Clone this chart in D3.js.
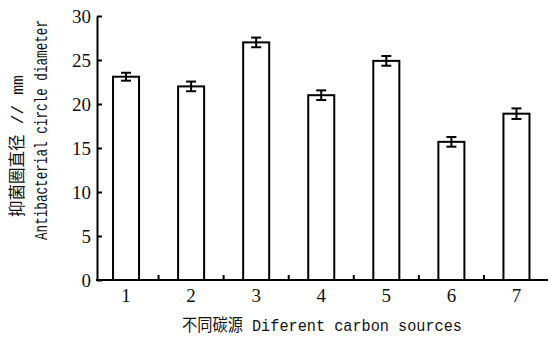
<!DOCTYPE html>
<html>
<head>
<meta charset="utf-8">
<script src="https://cdn.jsdelivr.net/npm/d3@7"></script>
<style>
body{margin:0;background:#fff;}
text{fill:#111;}
</style>
</head>
<body>
<script>
//data
const categories=["1","2","3","4","5","6","7"];
const values=[23.1,22.0,27.0,21.0,24.9,15.7,18.9];
const errors=[0.45,0.55,0.55,0.55,0.55,0.55,0.6];
const yTicks=[0,5,10,15,20,25,30];

//constants
const w=549;
const h=337;
const x0=97, x1=548, yTop=16, yBot=280;

const svg=d3.select("body").append("svg")
  .attr("width",w).attr("height",h);

const x=d3.scaleBand().domain(categories).range([93.5,549]).paddingInner(0.6).paddingOuter(0.3);
const y=d3.scaleLinear().domain([0,30]).range([yBot,yTop]);

//bars
svg.append("g").selectAll("rect")
  .data(values).enter().append("rect")
  .attr("x",(d,i)=>x(categories[i]))
  .attr("y",d=>y(d))
  .attr("width",x.bandwidth())
  .attr("height",d=>y(0)-y(d))
  .attr("fill","#fff").attr("stroke","#000").attr("stroke-width",2);

//error bars
const eb=svg.append("g").attr("stroke","#000").attr("stroke-width",2);
values.forEach((v,i)=>{
  const cx=x(categories[i])+x.bandwidth()/2;
  eb.append("line").attr("x1",cx).attr("x2",cx).attr("y1",y(v+errors[i])).attr("y2",y(v-errors[i]));
  eb.append("line").attr("x1",cx-5).attr("x2",cx+5).attr("y1",y(v+errors[i])).attr("y2",y(v+errors[i]));
  eb.append("line").attr("x1",cx-5).attr("x2",cx+5).attr("y1",y(v-errors[i])).attr("y2",y(v-errors[i]));
});

//y axis
const yAxis=d3.axisLeft(y).tickValues(yTicks).tickSize(-5).tickPadding(6).tickSizeOuter(0);
const gy=svg.append("g").attr("transform","translate("+x0+",0)").call(yAxis);
gy.select(".domain").attr("stroke-width",2);
gy.selectAll(".tick line").attr("stroke-width",2);
gy.selectAll("text").attr("font-family","'Liberation Serif',serif").attr("font-size",19).attr("fill","#111");

//x axis line
svg.append("line").attr("x1",x0-1).attr("x2",x1).attr("y1",yBot).attr("y2",yBot)
  .attr("stroke","#000").attr("stroke-width",2);

//minor ticks between categories
categories.slice(0,-1).forEach((c,i)=>{
  const mx=(x(c)+x.bandwidth()/2+x(categories[i+1])+x.bandwidth()/2)/2;
  svg.append("line").attr("x1",mx).attr("x2",mx).attr("y1",yBot).attr("y2",yBot-5)
    .attr("stroke","#000").attr("stroke-width",2);
});

//x labels
svg.append("g").selectAll("text").data(categories).enter().append("text")
  .attr("x",d=>x(d)+x.bandwidth()/2)
  .attr("y",302)
  .attr("text-anchor","middle")
  .attr("font-family","'Liberation Serif',serif").attr("font-size",19)
  .text(d=>d);

//axis titles
svg.append("text").attr("x",322).attr("y",331).attr("text-anchor","middle")
  .attr("font-family","'Liberation Mono','Noto Sans CJK SC',monospace").attr("font-size",17)
  .attr("textLength",280).attr("lengthAdjust","spacingAndGlyphs")
  .text("不同碳源 Diferent carbon sources");

svg.append("text").attr("transform","translate(23,146) rotate(-90)").attr("text-anchor","middle")
  .attr("font-family","'Liberation Mono','Noto Sans CJK SC',monospace").attr("font-size",17)
  .attr("textLength",142).attr("lengthAdjust","spacingAndGlyphs")
  .text("抑菌圈直径 // mm");

svg.append("text").attr("transform","translate(47,130) rotate(-90)").attr("text-anchor","middle")
  .attr("font-family","'Liberation Mono',monospace").attr("font-size",18)
  .attr("textLength",220).attr("lengthAdjust","spacingAndGlyphs")
  .text("Antibacterial circle diameter");
</script>
</body>
</html>
